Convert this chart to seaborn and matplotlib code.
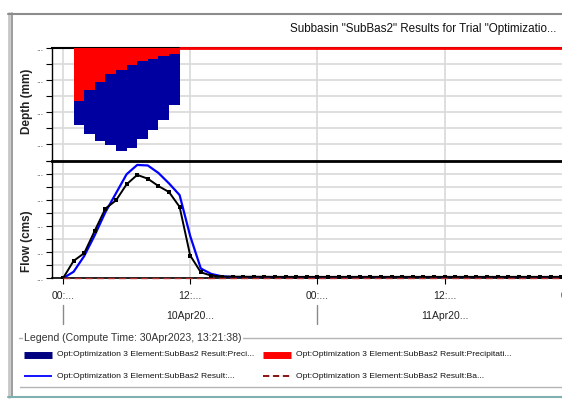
import numpy as np
import pandas as pd
import matplotlib
matplotlib.use("Agg")
import matplotlib.pyplot as plt
import matplotlib.transforms as mtrans
from matplotlib.lines import Line2D
import seaborn as sns

# ---------------- data ----------------
precip_hours = [1, 2, 3, 4, 5, 6, 7, 8, 9, 10]            # interval start (h)
precip_total = [4.81, 5.37, 5.79, 6.06, 6.42, 6.21, 5.64, 5.08, 4.50, 3.52]  # mm
precip_loss = [3.29, 2.62, 2.10, 1.58, 1.33, 1.06, 0.79, 0.64, 0.50, 0.38]   # mm

flow_hours = list(range(0, 49))
flow_computed = [0.0, 0.50, 1.70, 3.30, 5.05, 6.50, 7.95, 8.66, 8.62, 8.05,
                 7.25, 6.36, 3.23, 0.75, 0.33, 0.15, 0.10, 0.07, 0.05, 0.04,
                 0.04, 0.03, 0.03, 0.03, 0.02, 0.02, 0.02, 0.02, 0.02, 0.02,
                 0.02, 0.02, 0.02, 0.02, 0.02, 0.02, 0.02, 0.02, 0.02, 0.02,
                 0.02, 0.02, 0.02, 0.02, 0.02, 0.02, 0.02, 0.02, 0.02]
flow_observed = [0.0, 1.33, 1.92, 3.64, 5.33, 5.95, 7.18, 7.90, 7.61, 7.05,
                 6.59, 5.46, 1.74, 0.46, 0.20, 0.13, 0.13, 0.12, 0.12, 0.12,
                 0.11, 0.11, 0.11, 0.11, 0.11, 0.11, 0.11, 0.11, 0.11, 0.11,
                 0.11, 0.11, 0.11, 0.11, 0.11, 0.11, 0.11, 0.11, 0.11, 0.11,
                 0.11, 0.11, 0.11, 0.11, 0.11, 0.11, 0.11, 0.11, 0.11]
baseflow = [0.0] * 49

red_tail_hours = [11, 48.8]
red_tail_values = [0.0, 0.0]

x_ticks = [0, 12, 24, 36, 48]
x_tick_labels = ["00:...", "12:...", "00:...", "12:...", "00:..."]
day_centers = [12, 36]
day_labels = ["10Apr20...", "11Apr20..."]
day_separators = [0, 24]

title = 'Subbasin "SubBas2" Results for Trial "Optimizatio...'
legend_title = "Legend (Compute Time: 30Apr2023, 13:21:38)"
legend_labels = ["Opt:Optimization 3 Element:SubBas2 Result:Preci...",
                 "Opt:Optimization 3 Element:SubBas2 Result:Precipitati...",
                 "Opt:Optimization 3 Element:SubBas2 Result:...",
                 "Opt:Optimization 3 Element:SubBas2 Result:Ba..."]

# ---------------- style ----------------
sns.set_style("white")
plt.rcParams["font.family"] = ["Liberation Sans", "DejaVu Sans"]

W, H = 562, 400
def fx(px):
    return px / W
def fy(py):
    return 1 - py / H

fig = plt.figure(figsize=(W / 100, H / 100), dpi=100)
fig.patch.set_facecolor("white")

PXH = 10.6   # pixels per hour
x_left = (52 - 63) / PXH
x_right = (580 - 63) / PXH

ax_top = fig.add_axes([fx(52), fy(160.5), fx(580) - fx(52), fy(48.3) - fy(160.5)])
ax_bot = fig.add_axes([fx(52), fy(278.3), fx(580) - fx(52), fy(160.5) - fy(278.3)])

BLUE_BAR = "#0000a0"
RED = "#ff0000"
GRID = "#d9d9d9"

# ---------------- top panel: precipitation ----------------
df_p = pd.DataFrame({"hour": [h + 0.5 for h in precip_hours],
                     "total": precip_total, "loss": precip_loss})
edges = precip_hours + [precip_hours[-1] + 1]
sns.histplot(data=df_p, x="hour", weights="total", bins=edges, color=BLUE_BAR,
             alpha=1, linewidth=0, edgecolor=None, ax=ax_top, zorder=2)
sns.histplot(data=df_p, x="hour", weights="loss", bins=edges, color=RED,
             alpha=1, linewidth=0, edgecolor=None, ax=ax_top, zorder=3)
sns.lineplot(x=red_tail_hours, y=red_tail_values, color=RED, lw=2.0,
             ax=ax_top, zorder=4, clip_on=False)

ax_top.set_xlim(x_left, x_right)
ax_top.set_ylim(7, 0)
ax_top.set_yticks(range(0, 8))
ax_top.set_yticklabels(["..." if v % 2 == 0 else "" for v in range(0, 8)])
ax_top.set_xticks(x_ticks)
ax_top.tick_params(axis="x", length=0, labelbottom=False)
ax_top.tick_params(axis="y", length=4, width=0.8, color="black", pad=2,
                   labelsize=6, labelcolor="#444444", left=True)
ax_top.set_xlabel("")
ax_top.set_ylabel("")
ax_top.grid(True, color=GRID, lw=1.2, zorder=0)
ax_top.set_axisbelow(True)
for s in ["right", "bottom"]:
    ax_top.spines[s].set_visible(False)
ax_top.spines["top"].set_color("black")
ax_top.spines["top"].set_linewidth(1.5)
ax_top.spines["left"].set_color("black")
ax_top.spines["left"].set_linewidth(1.0)
ax_top.patch.set_alpha(0)

# ---------------- bottom panel: flow ----------------
df_f = pd.DataFrame({"hour": flow_hours, "computed": flow_computed,
                     "observed": flow_observed, "baseflow": baseflow})
sns.lineplot(data=df_f, x="hour", y="computed", color="#0000ff", lw=1.6,
             ax=ax_bot, zorder=3)
sns.lineplot(data=df_f, x="hour", y="observed", color="black", lw=1.4,
             marker="s", markersize=2.4, markeredgewidth=0, ax=ax_bot, zorder=4)
sns.lineplot(data=df_f, x="hour", y="baseflow", color="#b03030", lw=1.0,
             ax=ax_bot, zorder=5, linestyle=(0, (5, 3)), clip_on=False)

ax_bot.set_xlim(x_left, x_right)
ax_bot.set_ylim(0, 9)
ax_bot.set_yticks(range(0, 10))
ax_bot.set_yticklabels(["..." if v % 2 == 0 else "" for v in range(0, 10)])
ax_bot.set_xticks(x_ticks)
ax_bot.set_xticklabels(x_tick_labels)
ax_bot.tick_params(axis="x", length=4, width=0.8, color="black", pad=5,
                   labelsize=7.5, labelcolor="#222222", bottom=True)
ax_bot.tick_params(axis="y", length=4, width=0.8, color="black", pad=2,
                   labelsize=6, labelcolor="#444444", left=True)
ax_bot.set_xlabel("")
ax_bot.set_ylabel("")
ax_bot.grid(True, color=GRID, lw=1.2, zorder=0)
ax_bot.set_axisbelow(True)
ax_bot.spines["right"].set_visible(False)
ax_bot.spines["top"].set_color("black")
ax_bot.spines["top"].set_linewidth(2.0)
ax_bot.spines["bottom"].set_color("black")
ax_bot.spines["bottom"].set_linewidth(1.2)
ax_bot.spines["left"].set_color("black")
ax_bot.spines["left"].set_linewidth(1.0)

# date labels under the x axis
blend = mtrans.blended_transform_factory(ax_bot.transData, fig.transFigure)
for c, lab in zip(day_centers, day_labels):
    fig.text(c, fy(316), lab, transform=blend, ha="center", va="center",
             fontsize=7.5, color="#222222")
for s in day_separators:
    fig.add_artist(Line2D([s, s], [fy(305), fy(324)], transform=blend,
                          color="#8a8a8a", lw=1.0))

# axis titles
fig.text(fx(27), fy(101), "Depth (mm)", rotation=90, ha="center", va="center",
         fontsize=8.5, fontweight="bold", color="#222222")
fig.text(fx(27), fy(241), "Flow (cms)", rotation=90, ha="center", va="center",
         fontsize=8.5, fontweight="bold", color="#222222")

# chart title
fig.text(fx(556), fy(29), title, ha="right", va="center", fontsize=8.4,
         color="#111111")

# ---------------- frame ----------------
fig.add_artist(Line2D([fx(9), fx(9)], [fy(13), fy(397)], color="#c8c8c8", lw=2.0))
fig.add_artist(Line2D([fx(12), fx(12)], [fy(13), fy(397)], color="#8c8c8c", lw=1.2))
fig.add_artist(Line2D([fx(8), 1.0], [fy(13.5), fy(13.5)], color="#8c8c8c", lw=1.5))
fig.add_artist(Line2D([fx(8), 1.0], [fy(397), fy(397)], color="#7fb0b0", lw=1.5))

# ---------------- legend box ----------------
fig.add_artist(Line2D([fx(19), 1.0], [fy(338), fy(338)], color="#b4b4b4", lw=1.0))
fig.text(fx(24), fy(338), legend_title, ha="left", va="center", fontsize=7.6,
         color="#333333",
         bbox=dict(facecolor="white", edgecolor="none", pad=1.0))
fig.add_artist(Line2D([fx(20), 1.0], [fy(387), fy(387)], color="#b4b4b4", lw=1.0))

swatches = [
    dict(x=(24, 52), y=355, color="#000080", lw=5.0, ls="-"),
    dict(x=(263, 291), y=355, color=RED, lw=5.0, ls="-"),
    dict(x=(24, 52), y=376, color="#0000ff", lw=1.3, ls="-"),
    dict(x=(263, 291), y=376, color="#800000", lw=1.3, ls=(0, (3.5, 2))),
]
for sw, lab in zip(swatches, legend_labels):
    fig.add_artist(Line2D([fx(sw["x"][0]), fx(sw["x"][1])], [fy(sw["y"]), fy(sw["y"])],
                          color=sw["color"], lw=sw["lw"], linestyle=sw["ls"],
                          solid_capstyle="butt"))
    fig.text(fx(sw["x"][1] + 5), fy(sw["y"]), lab, ha="left", va="center",
             fontsize=6.1, color="#111111")

fig.savefig("out.png", dpi=100, facecolor="white")
